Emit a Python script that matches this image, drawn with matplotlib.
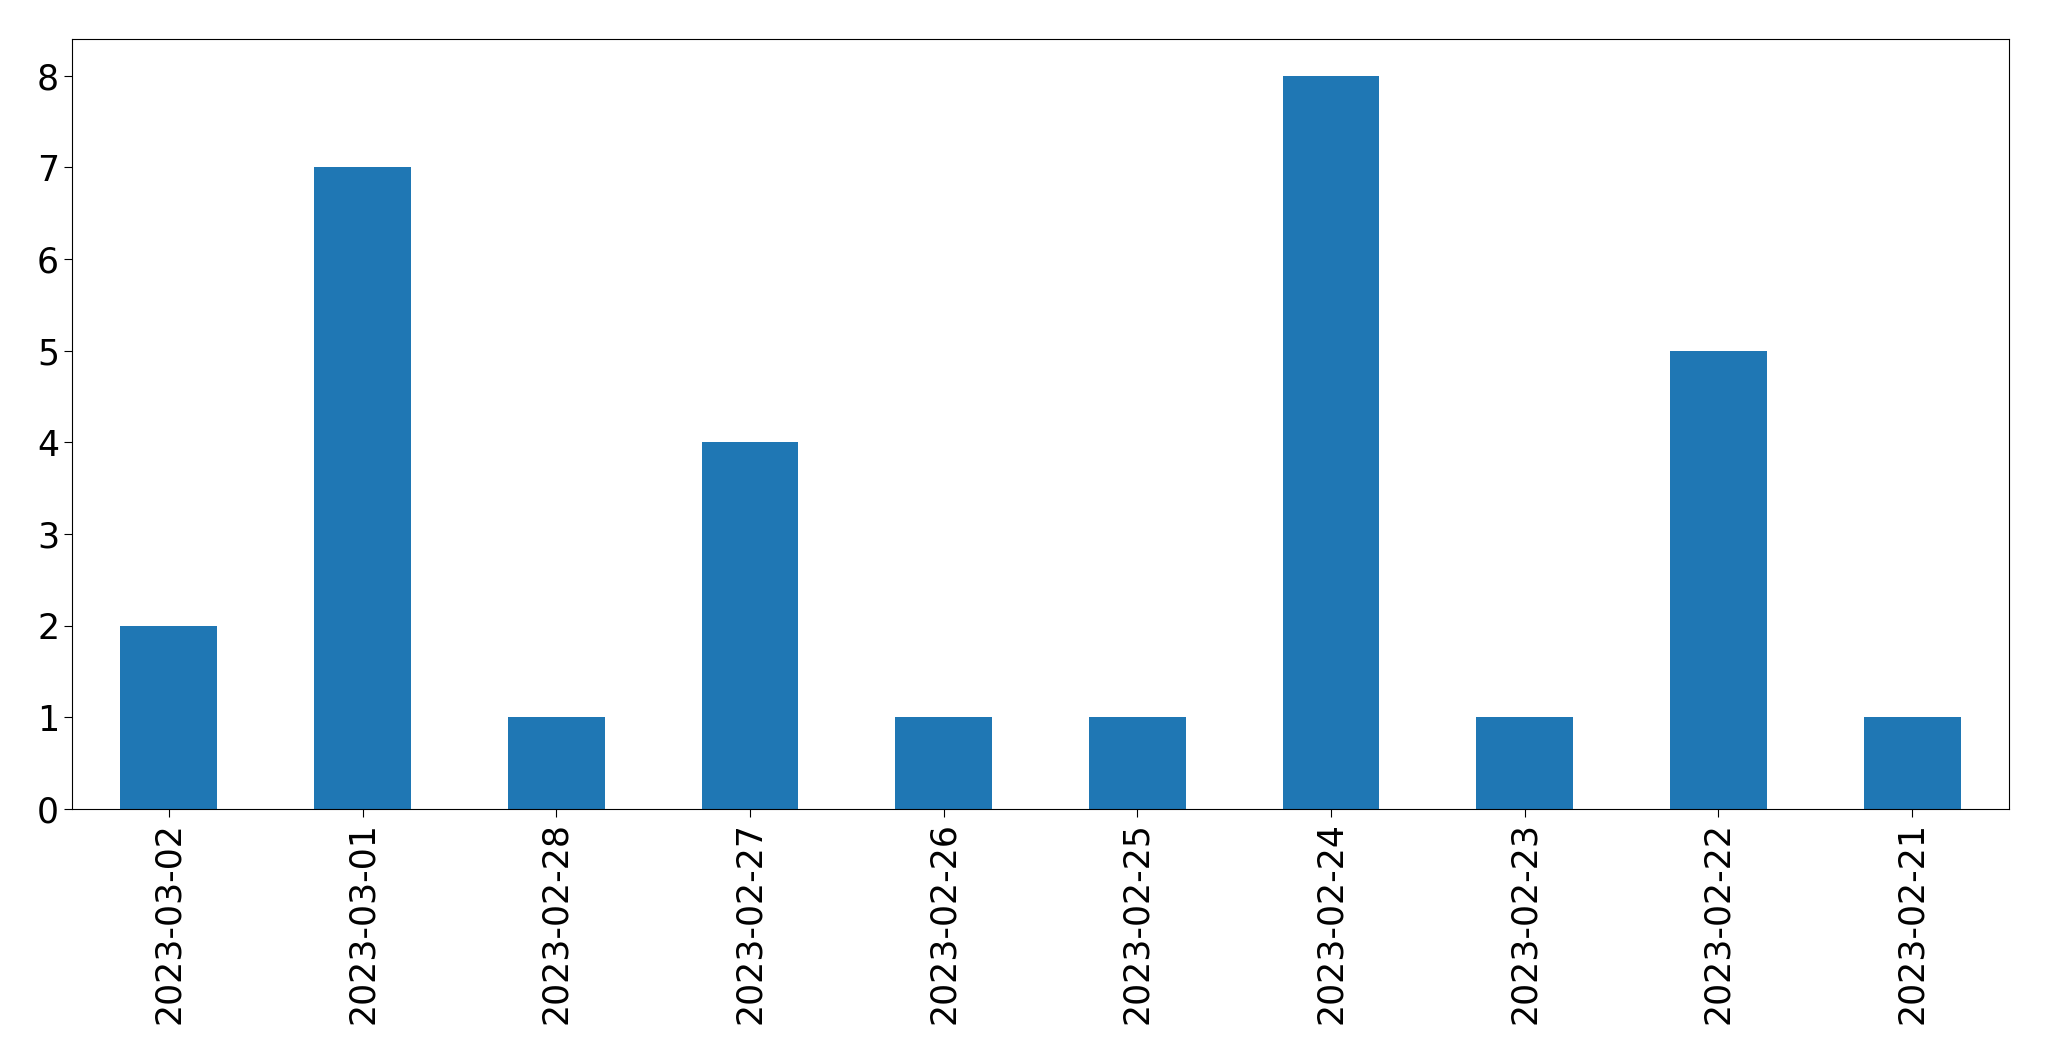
import matplotlib
matplotlib.use("Agg")
import matplotlib.pyplot as plt

dates = ["2023-03-02", "2023-03-01", "2023-02-28", "2023-02-27", "2023-02-26",
         "2023-02-25", "2023-02-24", "2023-02-23", "2023-02-22", "2023-02-21"]
counts = [2, 7, 1, 4, 1, 1, 8, 1, 5, 1]

fig = plt.figure(figsize=(20.49, 10.61), dpi=100)
ax = fig.add_axes([72 / 2049, 1 - 809 / 1061, (2009 - 72) / 2049, (809 - 39) / 1061])

x = range(len(dates))
ax.bar(x, counts, width=0.5, color="#1f77b4")
ax.set_xlim(-0.5, len(dates) - 0.5)
ax.set_ylim(0, max(counts) * 1.05)
ax.set_xticks(list(x))
ax.set_xticklabels(dates, rotation=90)
ax.tick_params(labelsize=25, length=5.7)

fig.savefig("out.png", dpi=100)
